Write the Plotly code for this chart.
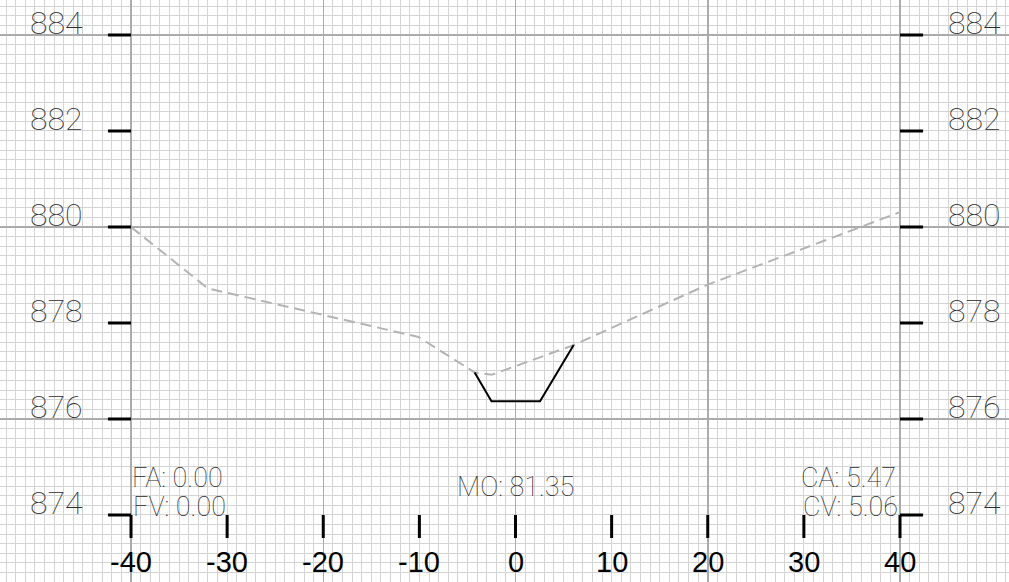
import plotly.graph_objects as go

# ---- data ----
terrain_x = [-40, -32, -10.1, -4.25, -2.5, 6.05, 20, 40]
terrain_y = [880.0, 878.72, 877.71, 876.97, 876.92, 877.54, 878.80, 880.31]

road_x = [-4.25, -2.5, 2.55, 6.05]
road_y = [876.97, 876.37, 876.37, 877.54]

x_ticks = [-40, -30, -20, -10, 0, 10, 20, 30, 40]
x_tick_labels = ["-40", "-30", "-20", "-10", "0", "10", "20", "30", "40"]
y_ticks = [874, 876, 878, 880, 882, 884]
y_tick_labels = ["874", "876", "878", "880", "882", "884"]

left_info = ["FA: 0.00", "FV: 0.00"]
mid_info = "MO: 81.35"
right_info = ["CA: 5.47", "CV: 5.06"]

X_RANGE = [-53.63, 51.34]
Y_RANGE = [872.604, 884.729]
TICK_LEN_X = 2.4   # horizontal tick length in x units
TICK_LEN_Y = 0.48  # vertical tick length in y units

THIN_FONT = "Roboto"
TEXT_COLOR = "#2a2a2a"

fig = go.Figure()

# terrain (dashed grey)
fig.add_trace(go.Scatter(x=terrain_x, y=terrain_y, mode="lines",
                         line=dict(color="#b3b3b3", width=2, dash="11px,6px"),
                         hoverinfo="skip"))
# road template (black)
fig.add_trace(go.Scatter(x=road_x, y=road_y, mode="lines",
                         line=dict(color="#000000", width=2),
                         hoverinfo="skip"))

# custom tick marks built from tick arrays
xmin, xmax = min(x_ticks), max(x_ticks)
ybase = min(y_ticks)
tx, ty = [], []
for yv in y_ticks:
    tx += [xmin - TICK_LEN_X, xmin, None, xmax, xmax + TICK_LEN_X, None]
    ty += [yv, yv, None, yv, yv, None]
for xv in x_ticks:
    tx += [xv, xv, None]
    ty += [ybase, ybase - TICK_LEN_Y, None]
fig.add_trace(go.Scatter(x=tx, y=ty, mode="lines",
                         line=dict(color="#000000", width=3),
                         hoverinfo="skip"))

annotations = []
for yv, lab in zip(y_ticks, y_tick_labels):
    for xc in (-47.8, 47.8):
        annotations.append(dict(x=xc, y=yv, text=lab, showarrow=False,
                                xanchor="center", yanchor="bottom", yshift=-9,
                                font=dict(family=THIN_FONT, size=32, color=TEXT_COLOR,
                                          weight=100)))
for xv, lab in zip(x_ticks, x_tick_labels):
    annotations.append(dict(x=xv, y=873.02, text=lab, showarrow=False,
                            xanchor="center", yanchor="middle",
                            font=dict(family="Liberation Sans", size=29, color="#000000")))

info_font = dict(family=THIN_FONT, size=27, color=TEXT_COLOR, weight=100)
annotations.append(dict(x=-40.1, y=874.78, text=left_info[0], showarrow=False,
                        xanchor="left", yanchor="middle", font=info_font))
annotations.append(dict(x=-40.0, y=874.17, text=left_info[1], showarrow=False,
                        xanchor="left", yanchor="middle", font=info_font))
annotations.append(dict(x=0, y=874.58, text=mid_info, showarrow=False,
                        xanchor="center", yanchor="middle", font=info_font))
annotations.append(dict(x=39.8, y=874.78, text=right_info[0], showarrow=False,
                        xanchor="right", yanchor="middle", font=info_font))
annotations.append(dict(x=40.0, y=874.17, text=right_info[1], showarrow=False,
                        xanchor="right", yanchor="middle", font=info_font))

fig.update_layout(
    width=1009, height=582, autosize=False,
    margin=dict(l=0, r=0, t=0, b=0, pad=0),
    paper_bgcolor="white", plot_bgcolor="white",
    showlegend=False,
    annotations=annotations,
    xaxis=dict(range=X_RANGE, tick0=0, dtick=20, showticklabels=False,
               showgrid=True, gridcolor="#ababab", gridwidth=1.5,
               zeroline=False, showline=False, ticks="",
               minor=dict(dtick=1, tick0=0, showgrid=True, gridcolor="#d4d4d4", gridwidth=1)),
    yaxis=dict(range=Y_RANGE, tick0=876, dtick=4, showticklabels=False,
               showgrid=True, gridcolor="#ababab", gridwidth=1.5,
               zeroline=False, showline=False, ticks="",
               minor=dict(dtick=0.2, tick0=876, showgrid=True, gridcolor="#d4d4d4", gridwidth=1)),
)

fig.write_html("out.html", config={"displayModeBar": False, "staticPlot": True},
               post_script="document.body.style.margin='0';document.body.style.overflow='hidden';")
